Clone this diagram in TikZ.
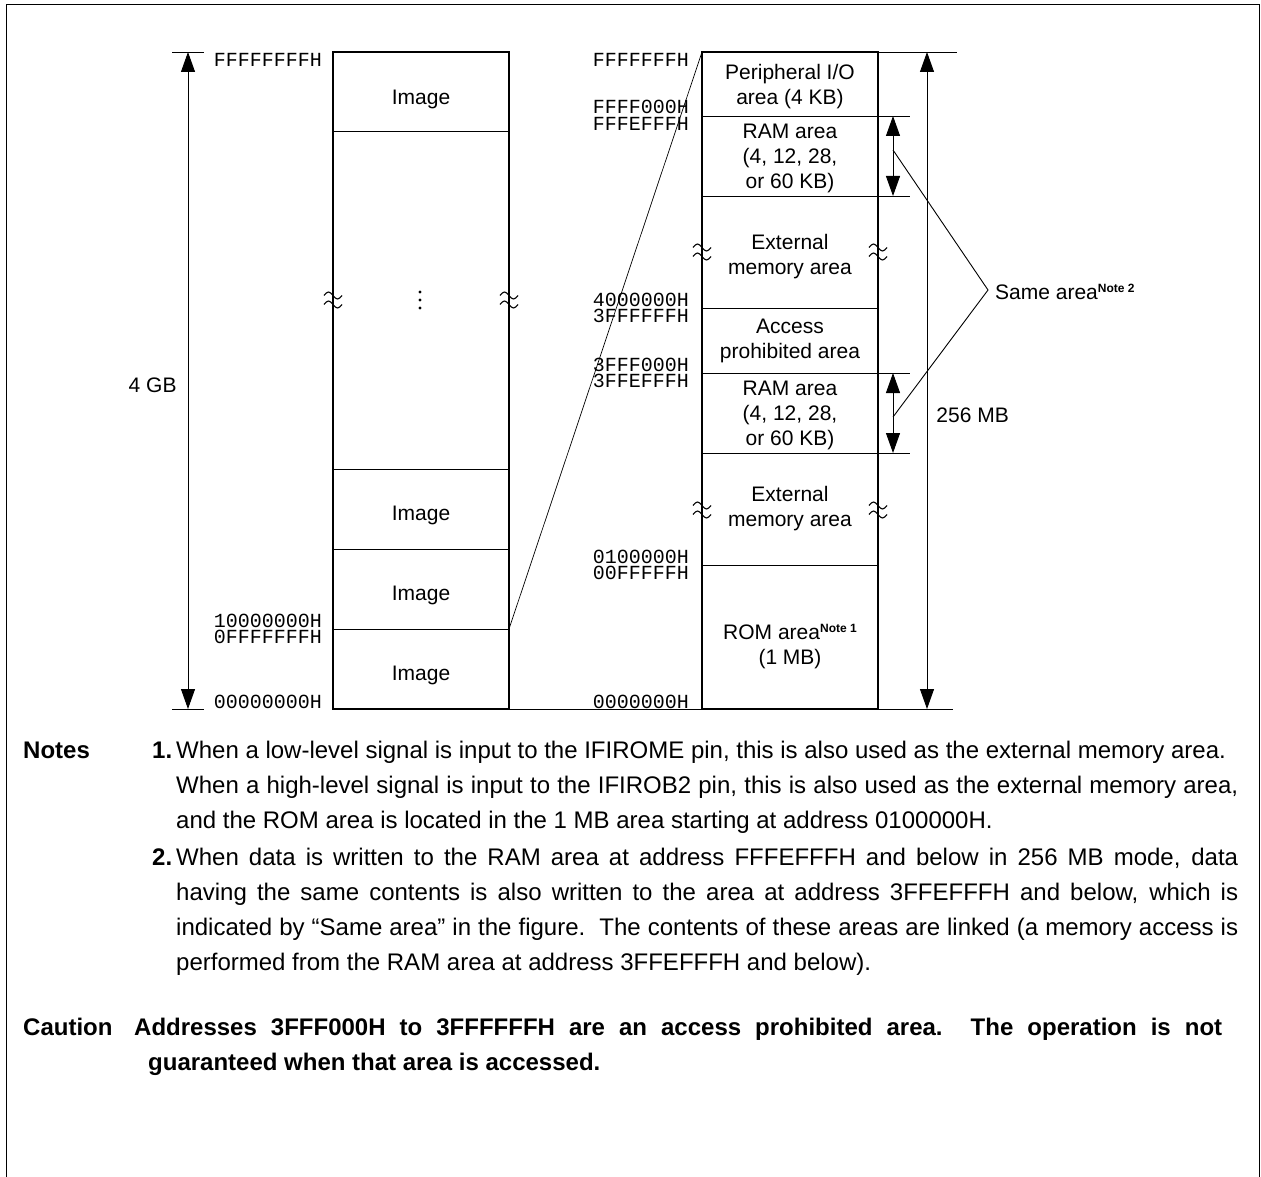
\documentclass[tikz,border=0pt]{standalone}
\usepackage{fontspec}
\setmainfont{Liberation Sans}
\setmonofont{Liberation Mono}
\usetikzlibrary{arrows.meta}

\newcommand{\noteref}[1]{\raisebox{7pt}{\fontsize{12}{12}\selectfont\bfseries Note #1}}
\newcommand{\notesfont}{\fontsize{24}{28}\selectfont}

\begin{document}
\begin{tikzpicture}[x=1pt,y=-1pt,
  >={Triangle[width=14pt,length=20pt]},
  area/.style={draw,line width=0.9pt,minimum width=176pt,inner sep=0pt,outer sep=0pt},
  lbl/.style={inner sep=0pt,align=center,font=\fontsize{21}{25}\selectfont},
  addr/.style={inner sep=0pt,anchor=base east,font=\fontsize{20}{20}\selectfont\ttfamily},
  dim/.style={line width=0.9pt},
  body/.style={inner sep=0pt,anchor=base west,font=\notesfont},
  bodyb/.style={body,font=\notesfont\bfseries}]
\useasboundingbox (0,0) rectangle (1261,1177);
\draw[line width=1.6pt] (6.5,1177) |- (1259.5,4.5) -- (1259.5,1177);

% 4 GB space
\node[area,minimum height=79pt] (img1) at (421,91.5) {};
\node[area,minimum height=338pt] (gap) at (421,300) {};
\node[area,minimum height=80pt] (img2) at (421,509) {};
\node[area,minimum height=80pt] (img3) at (421,589) {};
\node[area,minimum height=80pt] (img4) at (421,669) {};
\draw[line width=2.2pt] (img1.north west) rectangle (img4.south east);
\node[lbl] (t-img1) at (421,99) {Image};
\node[lbl] (t-img2) at (421,515) {Image};
\node[lbl] (t-img3) at (421,595) {Image};
\node[lbl] (t-img4) at (421,675) {Image};
\foreach \dy in {-8,0,8}
  \fill (gap) ++(-1,\dy) circle (1.6pt);

% 256 MB space
\node[area,minimum height=64pt] (perio) at (790,84) {};
\node[area,minimum height=80pt] (ram1) at (790,156) {};
\node[area,minimum height=112pt] (ext1) at (790,252) {};
\node[area,minimum height=65pt] (acc) at (790,340.5) {};
\node[area,minimum height=80pt] (ram2) at (790,413) {};
\node[area,minimum height=112pt] (ext2) at (790,509) {};
\node[area,minimum height=144pt] (rom) at (790,637) {};
\draw[line width=2.2pt] (perio.north west) rectangle (rom.south east);
\node[lbl] (t-perio) at (790,87) {Peripheral I/O\\area (4 KB)};
\node[lbl] (t-ram1) at (790,158) {RAM area\\(4, 12, 28,\\or 60 KB)};
\node[lbl] (t-ext1) at (790,257) {External\\memory area};
\node[lbl] (t-acc) at (790,340.5) {Access\\prohibited area};
\node[lbl] (t-ram2) at (790,415) {RAM area\\(4, 12, 28,\\or 60 KB)};
\node[lbl] (t-ext2) at (790,509) {External\\memory area};
\node[lbl] (t-rom) at (790,647) {ROM area\noteref{1}\\(1 MB)};

\foreach \bx/\by in {333/300,509/300,702/252,878/252,702/510,878/510}
  \foreach \dy in {-4.5,4.5}
    \draw[line width=1.1pt] (\bx-9,\by+\dy) sin (\bx-4.5,\by+\dy-3.5) cos (\bx,\by+\dy)
      sin (\bx+4.5,\by+\dy+3.5) cos (\bx+9,\by+\dy);

\node[addr] (aL1) at (322,67) {FFFFFFFFH};
\node[addr] (aL2) at (322,627) {10000000H};
\node[addr] (aL3) at (322,643.5) {0FFFFFFFH};
\node[addr] (aL4) at (322,708) {00000000H};
\node[addr] (aR1) at (689,67) {FFFFFFFH};
\node[addr] (aR2) at (689,114) {FFFF000H};
\node[addr] (aR3) at (689,130.5) {FFFEFFFH};
\node[addr] (aR4) at (689,306) {4000000H};
\node[addr] (aR5) at (689,322.5) {3FFFFFFH};
\node[addr] (aR6) at (689,371) {3FFF000H};
\node[addr] (aR7) at (689,387.5) {3FFEFFFH};
\node[addr] (aR8) at (689,563) {0100000H};
\node[addr] (aR9) at (689,579.5) {00FFFFFH};
\node[addr] (aR10) at (689,708) {0000000H};

\coordinate (gbTa) at (172,52);
\coordinate (gbTb) at (204,52);
\coordinate (gbBa) at (172,709);
\coordinate (gbBb) at (204,709);
\coordinate (gbT) at (188,52);
\coordinate (gbB) at (188,709);
\draw[dim] (gbTa) -- (gbTb);
\draw[dim] (gbBa) -- (gbBb);
\draw[dim,<->] (gbT) -- node[lbl,anchor=east,xshift=-11pt,pos=0.507] (gb) {4 GB} (gbB);

\draw[line width=0.7pt] (img3.south east) -- (perio.north west);
\draw[dim] (img4.south east) -- (rom.south west);

\coordinate (mbT) at (927,52);
\coordinate (mbB) at (927,709);
\coordinate (mbTr) at (957,52);
\coordinate (mbBr) at (953,709);
\draw[dim] (perio.north east) -- (mbTr);
\draw[dim] (rom.south east) -- (mbBr);
\draw[dim,<->] (mbT) -- node[lbl,anchor=west,xshift=9pt,pos=0.553] (mb) {256 MB} (mbB);

\foreach \n in {ram1,ram2} {
  \coordinate (\n-ta) at ([xshift=32pt]\n.north east);
  \coordinate (\n-ba) at ([xshift=32pt]\n.south east);
  \coordinate (\n-t) at ([xshift=15pt]\n.north east);
  \coordinate (\n-b) at ([xshift=15pt]\n.south east);
  \draw[dim] (\n.north east) -- (\n-ta);
  \draw[dim] (\n.south east) -- (\n-ba);
  \draw[dim,<->] (\n-t) -- (\n-b);
}

\node[lbl,anchor=base west] (same) at (995,299) {Same area\noteref{2}};
\coordinate (sameTip) at (988,290);
\coordinate (s1) at (893,150);
\coordinate (s2) at (893,417);
\draw[dim] (s1) -- (sameTip) -- (s2);

\node[bodyb] (notes) at (23,758) {Notes};
\node[bodyb] (n1) at (152,758) {1.};
\node[body] (n1a) at (176,758) {When a low-level signal is input to the IFIROME pin, this is also used as the external memory area.};
\node[body] (n1b) at (176,793) {\makebox[1062pt][s]{When a high-level signal is input to the IFIROB2 pin, this is also used as the external memory area,}};
\node[body] (n1c) at (176,828) {and the ROM area is located in the 1 MB area starting at address 0100000H.};
\node[bodyb] (n2) at (152,865) {2.};
\node[body] (n2a) at (176,865) {\makebox[1062pt][s]{When data is written to the RAM area at address FFFEFFFH and below in 256 MB mode, data}};
\node[body] (n2b) at (176,900) {\makebox[1062pt][s]{having the same contents is also written to the area at address 3FFEFFFH and below, which is}};
\node[body] (n2c) at (176,935) {\makebox[1062pt][s]{indicated by “Same area” in the figure.\ \ The contents of these areas are linked (a memory access is}};
\node[body] (n2d) at (176,970) {performed from the RAM area at address 3FFEFFFH and below).};

\node[bodyb] (caut) at (23,1035) {Caution};
\node[bodyb] (c1) at (134,1035) {\makebox[1088pt][s]{Addresses 3FFF000H to 3FFFFFFH are an access prohibited area.\ \ The operation is not}};
\node[bodyb] (c2) at (148,1070) {guaranteed when that area is accessed.};
\end{tikzpicture}
\end{document}
